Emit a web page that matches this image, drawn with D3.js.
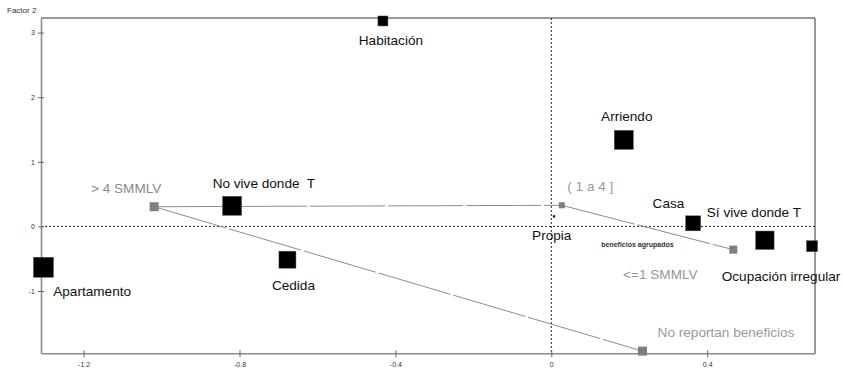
<!DOCTYPE html>
<html><head><meta charset="utf-8">
<script src="https://cdn.jsdelivr.net/npm/d3@7"></script>
<style>
html,body{margin:0;padding:0;background:#fff;}
svg{display:block;font-family:"Liberation Sans",Arial,sans-serif;}
</style></head>
<body><svg id="c" width="843" height="369"></svg>
<script>
// Active categories (vivienda)
const categories = ["Habitación","Arriendo","Casa","Sí vive donde T","Ocupación irregular","Propia","Apartamento","No vive donde  T","Cedida"];
const factor1 = [-0.432, 0.186, 0.364, 0.548, 0.669, 0.007, -1.303, -0.819, -0.677];
const factor2 = [3.18, 1.34, 0.048, -0.214, -0.306, 0.156, -0.632, 0.319, -0.515];
const weight  = [0.50, 0.95, 0.75, 0.92, 0.55, 0.10, 1.00, 0.95, 0.85];

// Supplementary categories (beneficios agrupados)
const benefits   = ["> 4 SMMLV","( 1 a 4 ]","<=1 SMMLV","No reportan beneficios"];
const benF1      = [-1.019, 0.027, 0.467, 0.234];
const benF2      = [0.305, 0.327, -0.36, -1.93];
const benWeight  = [0.45, 0.30, 0.40, 0.45];
const benLinks   = [[0,1],[1,2],[0,3]];
const supplementaryTitle = "beneficios agrupados";
const supplementaryPos = [0.221, -0.311];

// Axis ticks
const xTicks = [-1.2, -0.8, -0.4, 0, 0.4];
const yTicks = [-1, 0, 1, 2, 3];
const xTitle = "Factor 1", yTitle = "Factor 2";

// Layout (label offsets in px, relative to marker)
const labelOff = [[8,24.5],[3,-19.3],[-24.7,-15.6],[-11,-23.7],[-31,35.3],[-2.3,23.7],[48.7,28.3],[31.8,-18.3],[6,30.3]];
const benLabelOff = [[-28,-14],[28.5,-14.3],[-73,29.3],[83.5,-14.3]];
const benColors = ["#8a8a8a","#9a9a9a","#959595","#9a9a9a"];

const svg = d3.select("#c");
const L=41, R=815, T=18, B=353.3;
const x = d3.scaleLinear().domain([-1.3093, 0.6766]).range([L, R]);
const y = d3.scaleLinear().domain([-1.964, 3.226]).range([B, T]);
const size = d3.scaleLinear().domain([0,1]).range([0,20]);

// frame top/right
svg.append("line").attr("x1",L).attr("x2",R).attr("y1",T).attr("y2",T).attr("stroke","#333").attr("stroke-width",1);
svg.append("line").attr("x1",R).attr("x2",R).attr("y1",T).attr("y2",B).attr("stroke","#333").attr("stroke-width",1);

// reference lines
svg.append("line").attr("x1",x(0)).attr("x2",x(0)).attr("y1",T).attr("y2",B)
  .attr("stroke","#222").attr("stroke-width",1).attr("stroke-dasharray","2,2");
svg.append("line").attr("x1",L).attr("x2",R).attr("y1",y(0)).attr("y2",y(0))
  .attr("stroke","#222").attr("stroke-width",1).attr("stroke-dasharray","2,2");

// axes
const fmt = d => String(d);
const xAxis = d3.axisBottom(x).tickValues(xTicks).tickSize(0).tickPadding(7).tickFormat(fmt);
const gx = svg.append("g").attr("transform",`translate(0,${B})`).call(xAxis);
const yAxis = d3.axisLeft(y).tickValues(yTicks).tickSize(0).tickPadding(6).tickFormat(fmt);
const gy = svg.append("g").attr("transform",`translate(${L},0)`).call(yAxis);
[gx,gy].forEach(g=>{
  g.select(".domain").attr("stroke","#8a8a8a").attr("stroke-width",1.6);
  g.selectAll("text").attr("font-size",7).attr("fill","#333").attr("font-family","Liberation Sans, Arial, sans-serif");
});
gx.selectAll(".tick").append("line").attr("y1",-3).attr("y2",4).attr("stroke","#666");
gy.selectAll(".tick").append("line").attr("x1",-3).attr("x2",3).attr("stroke","#666");
gx.selectAll(".tick text").attr("dy","0.9em");

svg.append("text").attr("x",7).attr("y",13).attr("font-size",8).attr("fill","#333").text(yTitle);
svg.append("text").attr("x",795).attr("y",375).attr("font-size",8).attr("fill","#333").text(xTitle);

// supplementary links
svg.append("g").selectAll("line").data(benLinks).join("line")
  .attr("x1",d=>x(benF1[d[0]])).attr("y1",d=>y(benF2[d[0]]))
  .attr("x2",d=>x(benF1[d[1]])).attr("y2",d=>y(benF2[d[1]]))
  .attr("stroke","#8c8c8c").attr("stroke-width",1).attr("stroke-dasharray","75,3");

// active points
svg.append("g").selectAll("rect").data(categories).join("rect")
  .attr("x",(d,i)=>x(factor1[i])-size(weight[i])/2)
  .attr("y",(d,i)=>y(factor2[i])-size(weight[i])/2)
  .attr("width",(d,i)=>size(weight[i])).attr("height",(d,i)=>size(weight[i]))
  .attr("fill","#000").attr("stroke","#555").attr("stroke-width",0.5);

// supplementary points
svg.append("g").selectAll("rect").data(benefits).join("rect")
  .attr("x",(d,i)=>x(benF1[i])-size(benWeight[i])/2)
  .attr("y",(d,i)=>y(benF2[i])-size(benWeight[i])/2)
  .attr("width",(d,i)=>size(benWeight[i])).attr("height",(d,i)=>size(benWeight[i]))
  .attr("fill","#7f7f7f");

// labels
svg.append("g").selectAll("text").data(categories).join("text")
  .attr("x",(d,i)=>x(factor1[i])+labelOff[i][0])
  .attr("y",(d,i)=>y(factor2[i])+labelOff[i][1])
  .attr("text-anchor","middle").attr("font-size",13.6).attr("fill","#111")
  .style("white-space","pre").text(d=>d);

svg.append("g").selectAll("text").data(benefits).join("text")
  .attr("x",(d,i)=>x(benF1[i])+benLabelOff[i][0])
  .attr("y",(d,i)=>y(benF2[i])+benLabelOff[i][1])
  .attr("text-anchor","middle").attr("font-size",13.6).attr("fill",(d,i)=>benColors[i])
  .style("white-space","pre").text(d=>d);

svg.append("text").attr("x",x(supplementaryPos[0])).attr("y",y(supplementaryPos[1]))
  .attr("text-anchor","middle").attr("font-size",7).attr("font-weight","bold").attr("fill","#333")
  .text(supplementaryTitle);
</script>
</body></html>
